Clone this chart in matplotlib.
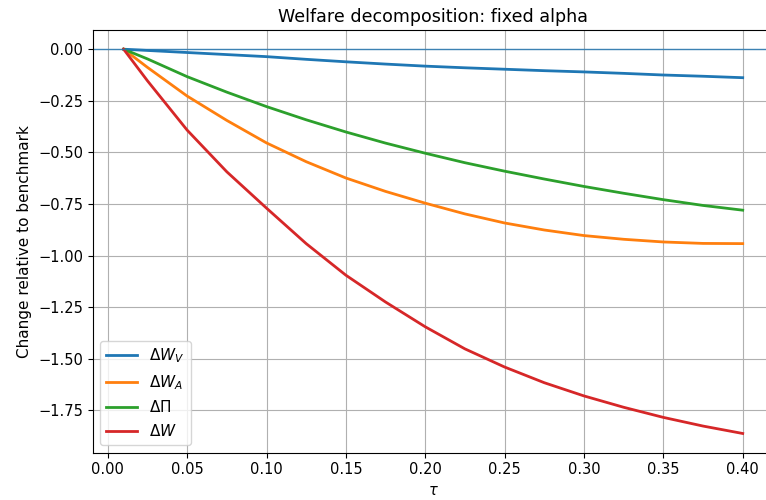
import numpy as np
import matplotlib
matplotlib.use("Agg")
import matplotlib.pyplot as plt

# valores
tau = [0.01, 0.025, 0.05, 0.075, 0.10, 0.125, 0.15, 0.175, 0.20,
       0.225, 0.25, 0.275, 0.30, 0.325, 0.35, 0.375, 0.40]

dW_V = [0.0, -0.006, -0.016, -0.026, -0.036, -0.049, -0.061, -0.072, -0.082,
        -0.090, -0.097, -0.104, -0.110, -0.117, -0.125, -0.131, -0.138]
dW_A = [0.0, -0.088, -0.227, -0.345, -0.454, -0.545, -0.624, -0.689, -0.746,
        -0.798, -0.842, -0.876, -0.903, -0.921, -0.934, -0.941, -0.942]
dPi = [0.0, -0.047, -0.133, -0.208, -0.278, -0.342, -0.401, -0.455, -0.504,
       -0.550, -0.591, -0.629, -0.665, -0.698, -0.729, -0.757, -0.780]
dW = [0.0, -0.153, -0.392, -0.594, -0.770, -0.942, -1.095, -1.225, -1.345,
      -1.452, -1.540, -1.616, -1.680, -1.735, -1.784, -1.826, -1.862]

labels = [r'$\Delta W_V$', r'$\Delta W_A$', r'$\Delta \Pi$', r'$\Delta W$']

plt.rcParams['font.size'] = 10.5

fig = plt.figure(figsize=(7.66, 5.0), dpi=100)
ax = fig.add_axes([0.121, 0.0946, 0.889, 0.8454])

ax.plot(tau, dW_V, lw=2, label=labels[0])
ax.plot(tau, dW_A, lw=2, label=labels[1])
ax.plot(tau, dPi, lw=2, label=labels[2])
ax.plot(tau, dW, lw=2, label=labels[3])
ax.axhline(0, color='C0', lw=1, alpha=0.8)

ax.set_xlabel(r'$\tau$')
ax.set_ylabel('Change relative to benchmark', fontsize=11)
ax.set_title('Welfare decomposition: fixed alpha', fontsize=12.6)
ax.grid(True)
ax.legend(loc='lower left', fontsize=11)

fig.savefig('out.png', dpi=100)
